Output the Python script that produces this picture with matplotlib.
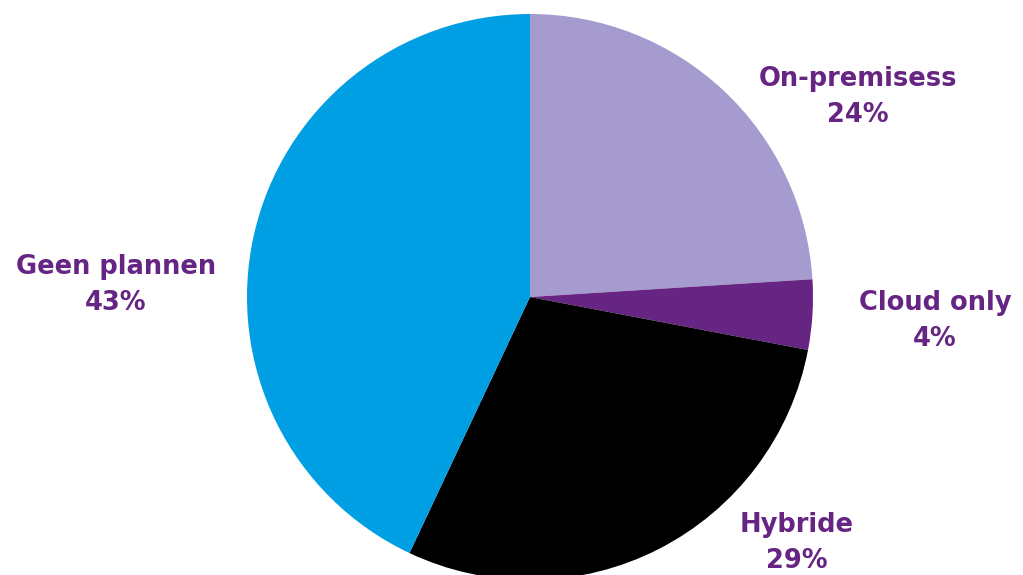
import matplotlib
matplotlib.use("Agg")
import matplotlib.pyplot as plt

categories = ["On-premisess", "Cloud only", "Hybride", "Geen plannen"]
values = [24, 4, 29, 43]
colors = ["#A69BCE", "#662483", "#000000", "#009FE3"]
label_pos = [(858, 97), (935, 321), (797, 543), (116, 285)]  # pixel coords (top-down)

W, H = 1023, 575
fig = plt.figure(figsize=(W / 100, H / 100), dpi=100)
ax = fig.add_axes([0, 0, 1, 1])

ax.pie(values, colors=colors, startangle=90, counterclock=False,
       center=(530, H - 297), radius=283, frame=True,
       wedgeprops=dict(linewidth=0))
ax.set_xlim(0, W)
ax.set_ylim(0, H)
ax.set_aspect("equal")
ax.axis("off")

for cat, v, (x, y) in zip(categories, values, label_pos):
    ax.text(x, H - y, f"{cat}\n{v}%", ha="center", va="center",
            fontsize=18.5, fontweight="bold", color="#662483",
            family="DejaVu Sans", linespacing=1.5)

fig.savefig("out.png", dpi=100)
